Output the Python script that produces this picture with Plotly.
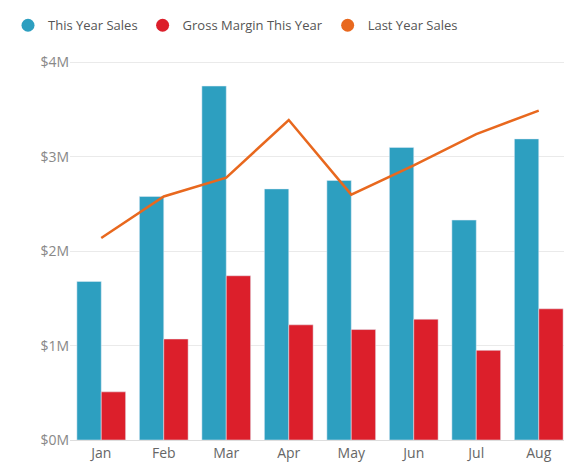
import plotly.graph_objects as go

mois = ['Jan', 'Feb', 'Mar', 'Apr', 'May', 'Jun', 'Jul', 'Aug']
ventes = [1.68, 2.58, 3.75, 2.66, 2.75, 3.10, 2.33, 3.19]
marge = [0.51, 1.07, 1.74, 1.22, 1.17, 1.28, 0.95, 1.39]
ventes_an_dernier = [2.14, 2.58, 2.78, 3.39, 2.60, 2.91, 3.24, 3.49]

noms = ['This Year Sales', 'Gross Margin This Year', 'Last Year Sales']
couleurs = ['#2D9FC0', '#DC1F2B', '#E8681E']

fig = go.Figure()
fig.add_trace(go.Bar(x=mois, y=[v * 1e6 for v in ventes], name=noms[0], marker_color=couleurs[0], showlegend=False))
fig.add_trace(go.Bar(x=mois, y=[v * 1e6 for v in marge], name=noms[1], marker_color=couleurs[1], showlegend=False))
fig.add_trace(go.Scatter(x=mois, y=[v * 1e6 for v in ventes_an_dernier], name=noms[2],
                         mode='lines', line=dict(color=couleurs[2], width=2.5), showlegend=False))
# legend entries with round markers
for nom, c in zip(noms, couleurs):
    fig.add_trace(go.Scatter(x=[None], y=[None], mode='markers', name=nom,
                             marker=dict(symbol='circle', size=13, color=c)))

fig.update_layout(
    width=572, height=465,
    margin=dict(l=62, r=10, t=45, b=33),
    plot_bgcolor='white', paper_bgcolor='white',
    barmode='group', bargap=0.22, bargroupgap=0,
    font=dict(family='Open Sans', size=14, color='#666666'),
    legend=dict(orientation='h', xref='container', yref='container', x=0, y=0.995,
                xanchor='left', yanchor='top', font=dict(size=13, color='#555555'),
                itemwidth=30, tracegroupgap=0),
)
fig.update_yaxes(range=[0, 4.1e6], tickvals=[0, 1e6, 2e6, 3e6, 4e6],
                 ticktext=['$0M', '$1M', '$2M', '$3M', '$4M'],
                 gridcolor='#EAEAEA', zeroline=False, color='#888888')
fig.update_xaxes(showline=True, linecolor='#DDDDDD', color='#666666')
fig.write_html('out.html')
